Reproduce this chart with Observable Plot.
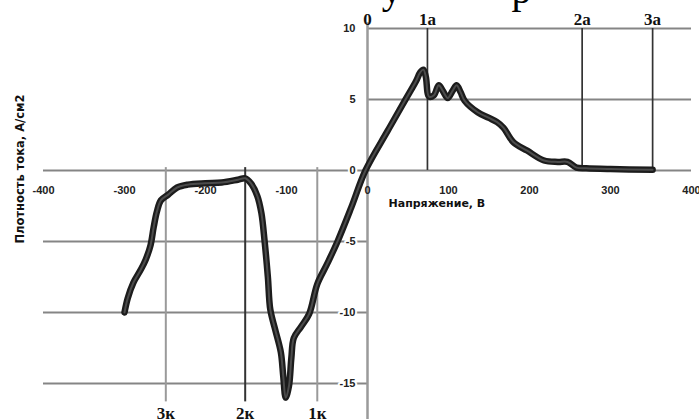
<!DOCTYPE html>
<html><head><meta charset="utf-8">
<script src="https://cdn.jsdelivr.net/npm/d3@7"></script>
<script src="https://cdn.jsdelivr.net/npm/@observablehq/plot@0.6"></script>
<style>body{margin:0;background:#fff}</style>
</head><body><div id="chart"></div>
<script>
// Polarisation curve: voltage (V) vs current density (A/cm2)
const voltage = [-300,-296,-289,-280,-274,-268,-264,-260,-255,-246,-235,-222,-200,-180,-160,-151,-144,-136,-131,-127,-123,-120,-114,-107,-104,-101,-97,-94,-91,-82,-72,-62,-50,-37,-20,-2.5,25,47,60,65,69,72,76,82,88,93,99,105,110,115,120,136,150,160,168,180,197,218,235,247,258,270,300,352];
const current = [-10.0,-9.0,-7.9,-7.0,-6.3,-5.3,-4.0,-2.9,-2.1,-1.7,-1.2,-1.0,-0.9,-0.85,-0.65,-0.55,-0.9,-1.8,-3.0,-5.0,-7.5,-9.8,-11.2,-12.8,-14.5,-16.0,-15.2,-13.2,-11.8,-11.0,-10.1,-8.0,-6.6,-5.0,-2.6,0,2.8,5.0,6.3,6.9,7.1,6.6,5.2,5.3,6.0,5.6,5.1,5.6,6.0,5.5,4.9,4.1,3.7,3.4,3.0,2.0,1.4,0.7,0.6,0.6,0.2,0.15,0.1,0.05];
const xTicks = [-400,-300,-200,-100,0,100,200,300,400];
const yTicksPos = [10,5];
const yTicksNeg = [-5,-10,-15];
const topNames = ["0","1а","2а","3а"];
const topVoltage = [0,74,265,352];
const cathodeNames = ["1к","2к","3к"];
const cathodeVoltage = [-62,-151,-249];
const xTitle = "Напряжение, В";
const yTitle = "Плотность тока, A/см2";

const curve = voltage.map((v,i)=>({v, j: current[i]}));
const sans = "Liberation Sans, Arial, sans-serif";
const wide = "DejaVu Sans, sans-serif";
const serif = "Liberation Serif, Times New Roman, serif";

const chart = Plot.plot({
  width: 699, height: 419,
  marginLeft: 43, marginRight: 8, marginTop: 0, marginBottom: 0,
  x: {domain: [-400, 400], axis: null},
  y: {domain: [-17.54, 11.97], axis: null},
  style: {background: "#fff", fontFamily: sans},
  marks: [
    // fragment of the text line above the figure (cut off)
    Plot.text(["у","р"], {x: [30, 190], frameAnchor: "top", lineAnchor: "bottom", dy: 2, text: d=>d, fontFamily: serif, fontSize: 40, fill: "#000"}),
    // grid
    Plot.ruleY(yTicksPos, {x1: 0, x2: 400, stroke: "#858585", strokeWidth: 2}),
    Plot.ruleY(yTicksNeg, {x1: -400, x2: 0, stroke: "#858585", strokeWidth: 2}),
    Plot.ruleY([0], {x1: -400, x2: 400, stroke: "#858585", strokeWidth: 2}),
    // anodic markers
    Plot.ruleX(topVoltage.slice(1), {y1: 0, y2: 10, stroke: "#333", strokeWidth: 1.7}),
    // cathodic markers
    Plot.ruleX([cathodeVoltage[0], cathodeVoltage[2]], {y1: 0.2, y2: -16.3, stroke: "#9a9a9a", strokeWidth: 2}),
    Plot.ruleX([cathodeVoltage[1]], {y1: 0.2, y2: -16.3, stroke: "#333", strokeWidth: 2}),
    // y axis
    Plot.ruleX([0], {y1: 10.4, y2: -17.54, stroke: "#9a9a9a", strokeWidth: 2.5}),
    // y tick labels
    Plot.text([...yTicksPos, 0, ...yTicksNeg], {x: 0, y: d=>d, text: d=>String(d), dx: -12, textAnchor: "end", fontSize: 11, fontWeight: "bold", fill: "#222", stroke: "#fff", strokeWidth: 4}),
    // x tick labels
    Plot.text(xTicks, {x: d=>d, y: 0, text: d=>String(d), dy: 20, fontSize: 11, fontWeight: "bold", fill: "#222"}),
    // axis titles
    Plot.text([xTitle], {x: 0, y: 0, dx: 21, dy: 33, textAnchor: "start", fontFamily: wide, fontSize: 11, fontWeight: "bold", fill: "#111"}),
    Plot.text([yTitle], {frameAnchor: "left", textAnchor: "middle", dx: -23, dy: -41, rotate: -90, fontFamily: wide, fontSize: 11.5, fontWeight: "bold", fill: "#111"}),
    // marker labels
    Plot.text(topNames, {x: (d,i)=>topVoltage[i], frameAnchor: "top", lineAnchor: "bottom", dy: 24, text: d=>d, fontFamily: serif, fontWeight: "bold", fontSize: 17, fill: "#111"}),
    Plot.text(cathodeNames, {x: (d,i)=>cathodeVoltage[i], frameAnchor: "bottom", lineAnchor: "bottom", dy: -1, text: d=>d, fontFamily: serif, fontWeight: "bold", fontSize: 17, fill: "#111"}),
    // the curve
    Plot.line(curve, {x: "v", y: "j", curve: "catmull-rom", stroke: "#1c1c1c", strokeWidth: 6.5}),
    Plot.line(curve, {x: "v", y: "j", curve: "catmull-rom", stroke: "#4c4c4c", strokeWidth: 2})
  ]
});
document.getElementById("chart").appendChild(chart);
</script>
</body></html>
